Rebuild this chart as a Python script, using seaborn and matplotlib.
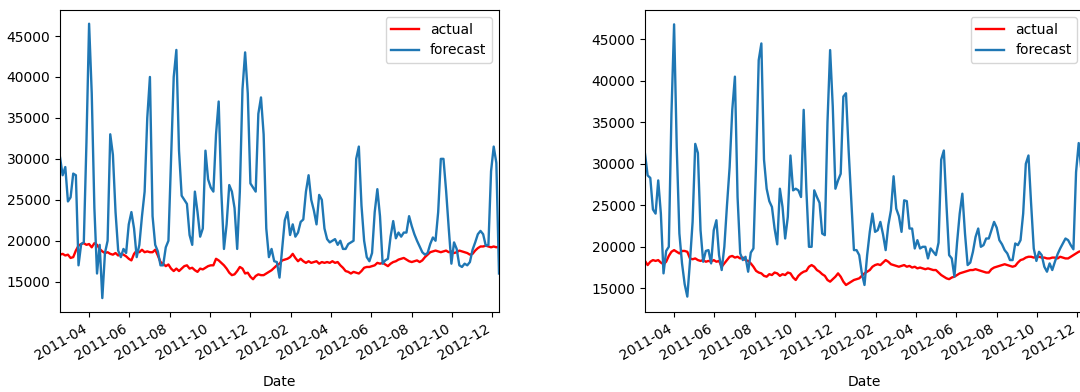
import numpy as np
import pandas as pd
import matplotlib
matplotlib.use("Agg")
import matplotlib.pyplot as plt
import matplotlib.dates as mdates
import seaborn as sns

# ---- data (4-day sampling) ----
start_date = "2011-02-16"
step = "4D"

actual_left = [
    18300, 18400, 18200, 18300, 17900, 18000, 18800, 19400, 19600, 19700,
    19500, 19600, 19200, 19700, 19500, 19000, 18700, 18500, 18600, 18400,
    18300, 18500, 18200, 18400, 18300, 18100, 17800, 17600, 18400, 18800,
    18600, 18900, 18600, 18700, 18600, 18600, 18900, 18200, 17400, 17200,
    16900, 17100, 16600, 16300, 16600, 16300, 16600, 16900, 17000, 16600,
    16700, 16400, 16200, 16600, 16500, 16700, 16900, 17000, 17000, 17800,
    17600, 17300, 17000, 16600, 16100, 15800, 15900, 16300, 16800, 16600,
    16000, 16100, 15600, 15300, 15700, 15900, 15800, 15800, 16000, 16200,
    16400, 16700, 17000, 17200, 17600, 17700, 17800, 18000, 18400, 17900,
    17500, 17800, 17500, 17300, 17500, 17300, 17400, 17500, 17200, 17400,
    17300, 17400, 17300, 17500, 17300, 17400, 17000, 16700, 16300, 16200,
    16000, 16200, 16100, 16000, 16300, 16700, 16800, 16800, 16900, 17000,
    17300, 17200, 17300, 17100, 16900, 17200, 17400, 17500, 17700, 17800,
    17900, 17700, 17500, 17400, 17500, 17600, 17400, 17600, 18000, 18300,
    18600, 18700, 18800, 18700, 18600, 18700, 18800, 18600, 18700, 18500,
    18600, 18800, 18700, 18600, 18500, 18300, 18400, 18800, 19100, 19300,
    19300, 19400, 19300, 19200, 19300, 19200, 19300,
]

forecast_left = [
    30200, 28000, 29000, 24800, 25300, 28200, 28000, 17000, 19600, 19800,
    32000, 46500, 38000, 24000, 16000, 19500, 13000, 18500, 20000, 33000,
    30500, 23500, 18800, 18000, 19000, 18500, 22000, 23500, 21500, 18000,
    19500, 23000, 26000, 35000, 40000, 23000, 19500, 18700, 17000, 17000,
    19200, 20000, 30000, 40000, 43300, 31000, 25500, 25000, 24500, 20700,
    19500, 26000, 23500, 20500, 21500, 31000, 27500, 26500, 26000, 33000,
    37000, 26000, 19000, 22000, 26800, 26000, 24000, 19000, 26000, 38500,
    43000, 38000, 27000, 26500, 26000, 35500, 37500, 33000, 21500, 18000,
    19000, 17500, 17400, 15500, 19000, 22500, 23500, 20700, 22000, 20500,
    21000, 22300, 22600, 26000, 28000, 25000, 23700, 22000, 25600, 25000,
    21500, 20200, 19800, 20000, 20200, 19500, 20000, 19000, 19000, 19600,
    19800, 20000, 30000, 31500, 24300, 20000, 18000, 17500, 18500, 23500,
    26300, 23000, 17200, 17600, 17800, 20500, 22400, 20300, 21000, 20500,
    21000, 21000, 23000, 21800, 20800, 20000, 19300, 18600, 18300, 18500,
    19600, 20400, 20000, 23500, 30000, 30000, 26100, 21500, 17200, 19800,
    19000, 17000, 16800, 17200, 17000, 17400, 18900, 19800, 20800, 21200,
    20800, 19400, 19500, 28500, 31500, 29500, 16000,
]

actual_right = [
    18300, 17800, 18200, 18400, 18300, 18400, 18100, 17900, 18200, 18900,
    19400, 19600, 19400, 19200, 19500, 19500, 19400, 18600, 18500, 18600,
    18400, 18300, 18400, 18200, 18300, 18200, 18400, 18200, 18300, 17600,
    18000, 18400, 18800, 18900, 18700, 18800, 18600, 18700, 18400, 18300,
    18000, 17600, 17100, 16900, 16800, 16500, 16400, 16700, 16600, 16900,
    16800, 16500, 16700, 16600, 16900, 16800, 16300, 16000, 16500, 16800,
    17000, 17100, 17600, 17800, 17600, 17200, 17000, 16700, 16500, 16000,
    15800, 16100, 16400, 16800, 16400, 15800, 15400, 15600, 15800, 16000,
    16100, 16200, 16500, 16800, 17000, 17200, 17600, 17800, 17900, 17800,
    18100, 18400, 18200, 17900, 17800, 17700, 17600, 17700, 17800, 17600,
    17700, 17500, 17600, 17400, 17500, 17400, 17300, 17400, 17300, 17200,
    17200, 16900, 16600, 16400, 16200, 16100, 16300, 16400, 16600, 16800,
    16900, 17000, 17100, 17200, 17200, 17300, 17200, 17100, 17000, 16900,
    16900, 17300, 17500, 17600, 17700, 17800, 17900, 17800, 17700, 17600,
    17700, 18100, 18400, 18500, 18700, 18800, 18800, 18700, 18800, 18800,
    18700, 18700, 18600, 18600, 18700, 18700, 18600, 18800, 18700, 18600,
    18600, 18800, 19000, 19200, 19400, 19500, 19600,
]

forecast_right = [
    31200, 28600, 28300, 24500, 24000, 28000, 24000, 16800, 19500, 20000,
    36000, 46800, 32000, 21600, 18000, 15500, 14000, 18200, 23000, 32400,
    31300, 22000, 18200, 19500, 19600, 18000, 22000, 23200, 19000, 17200,
    20000, 25000, 29600, 36500, 40500, 26000, 19200, 18400, 18800, 17000,
    19300, 19800, 30000, 42500, 44500, 30500, 27000, 25500, 24800, 22200,
    20300, 27000, 24800, 21000, 23600, 31000, 26800, 27000, 26800, 26000,
    36500, 27000, 20000, 20000, 26800, 26000, 25300, 21600, 21400, 35000,
    43700, 36900, 27000, 28000, 28800, 38100, 38500, 31600, 25600, 19600,
    19600, 19000, 16800, 15400, 19000, 21800, 24000, 21800, 22000, 23000,
    21500, 19600, 22600, 24400, 28500, 24600, 23700, 21800, 25600, 25500,
    22200, 22200, 19800, 20800, 19800, 20000, 20000, 18600, 19800, 19400,
    19000, 20500, 30500, 31600, 25000, 19000, 18600, 16400, 20500, 24000,
    26400, 21600, 17800, 18100, 19400, 21200, 22200, 20000, 20200, 21000,
    21000, 22000, 23000, 22300, 20800, 20300, 19600, 19200, 18400, 18400,
    20400, 20200, 20800, 24000, 30000, 31000, 25200, 19800, 18300, 19400,
    19000, 17600, 17000, 18000, 17200, 18200, 19100, 19800, 20400, 21000,
    20800, 20200, 19700, 29000, 32500, 29200, 17000,
]

ylim_left = (11300, 48175)
ylim_right = (12145, 48530)

# ---- figure ----
W, H, DPI = 1080, 392, 100
fig = plt.figure(figsize=(W / DPI, H / DPI), dpi=DPI)

axes_specs = [
    (60 / W, (actual_left, forecast_left), ylim_left),
    (645 / W, (actual_right, forecast_right), ylim_right),
]

for x0, (act, fc), ylim in axes_specs:
    ax = fig.add_axes([x0, 1 - 312 / H, 439 / W, 302 / H])
    dates = pd.date_range(start_date, periods=len(act), freq=step)
    df = pd.DataFrame({"Date": dates, "actual": act, "forecast": fc})
    sns.lineplot(data=df, x="Date", y="actual", ax=ax, color="red",
                 linewidth=1.7, label="actual")
    sns.lineplot(data=df, x="Date", y="forecast", ax=ax, color="#1f77b4",
                 linewidth=1.7, label="forecast")
    ax.set_xlim(dates[0], dates[-1])
    ax.set_ylim(*ylim)
    ax.set_yticks(np.arange(15000, 45001, 5000))
    ax.xaxis.set_major_locator(mdates.MonthLocator(bymonth=range(2, 13, 2)))
    ax.xaxis.set_major_formatter(mdates.DateFormatter("%Y-%m"))
    ax.set_xlabel("Date", labelpad=9)
    ax.set_ylabel("")
    for lbl in ax.get_xticklabels():
        lbl.set_rotation(30)
        lbl.set_ha("right")
    ax.legend(loc="upper right")

fig.savefig("out.png", dpi=DPI)
